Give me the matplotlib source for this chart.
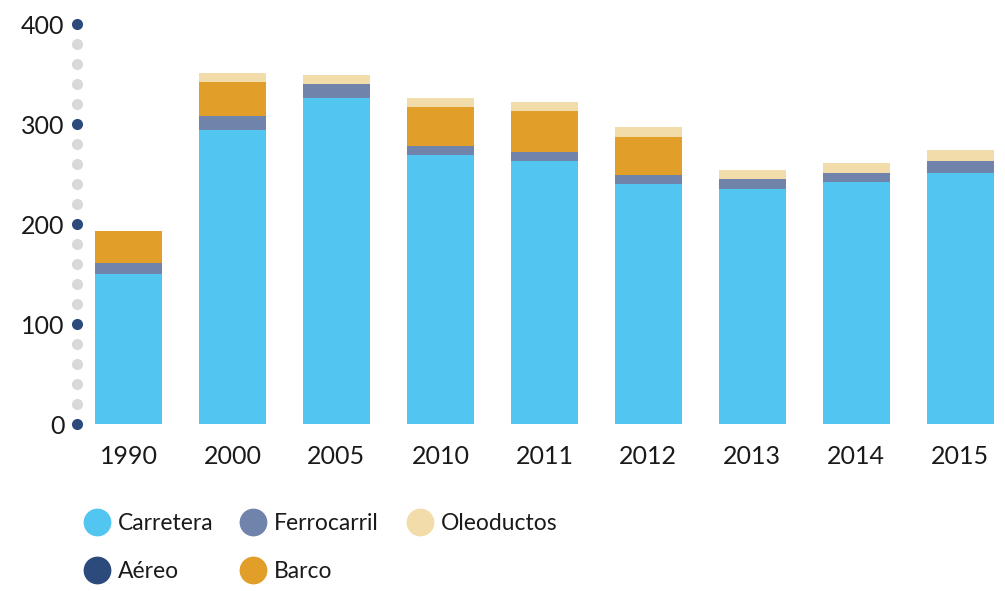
import numpy as np
import matplotlib.pyplot as plt
from matplotlib.lines import Line2D

# values
years = ['1990', '2000', '2005', '2010', '2011', '2012', '2013', '2014', '2015']
carretera = [150, 294, 326, 269, 263, 240, 235, 242, 251]
ferrocarril = [11, 14, 14, 9, 9, 9, 10, 9, 12]
aereo = [0.5, 0.5, 0.5, 0.5, 0.5, 0.5, 0.5, 0.5, 0.5]
barco = [32, 34, 0, 39, 41, 38, 0, 0, 0]
oleoductos = [0, 9, 9, 9, 9, 10, 9, 10, 11]

y_ticks = [0, 100, 200, 300, 400]
dot_values = np.arange(0, 401, 20)

legend_labels = ['Carretera', 'Ferrocarril', 'Oleoductos', 'Aéreo', 'Barco']

c_carretera = '#52c5f0'
c_ferro = '#7083aa'
c_oleo = '#f2dcaa'
c_aereo = '#2c4a7c'
c_barco = '#e19e28'
c_dot = '#d9d9d9'
c_text = '#1a1a1a'

plt.rcParams['font.family'] = ['Lato', 'DejaVu Sans']

W, H = 1005, 591
fig = plt.figure(figsize=(W / 100, H / 100), dpi=100)
ax = fig.add_axes([77 / W, 1 - 424 / H, (W - 77) / W, 400 / H])

x = np.arange(len(years))
w = 0.64
series = [(carretera, c_carretera), (ferrocarril, c_ferro), (aereo, c_aereo),
          (barco, c_barco), (oleoductos, c_oleo)]
bottom = np.zeros(len(years))
for vals, col in series:
    vals = np.array(vals, dtype=float)
    ax.bar(x, vals, w, bottom=bottom, color=col, linewidth=0)
    bottom += vals

ax.set_xlim(-0.495, 8.43)
ax.set_ylim(0, 400)

# dotted y axis
for v in dot_values:
    col = c_aereo if v % 100 == 0 else c_dot
    ax.plot([-0.495], [v], 'o', color=col, markersize=8, clip_on=False, zorder=5,
            markeredgewidth=0)

for s in ax.spines.values():
    s.set_visible(False)
ax.set_yticks(y_ticks)
ax.set_yticklabels([str(t) for t in y_ticks])
ax.set_xticks(x)
ax.set_xticklabels(years)
ax.tick_params(axis='both', length=0, labelsize=18, labelcolor=c_text)
ax.tick_params(axis='y', pad=9)
ax.tick_params(axis='x', pad=15)

# legend, placed by hand like the original layout
leg_colors = [c_carretera, c_ferro, c_oleo, c_aereo, c_barco]
leg_cx = [97, 253, 420, 97, 253]
leg_cy = [522, 522, 522, 570, 570]
for lab, col, cx, cy in zip(legend_labels, leg_colors, leg_cx, leg_cy):
    fig.add_artist(Line2D([cx / W], [1 - cy / H], marker='o', linestyle='',
                          color=col, markersize=20, markeredgewidth=0,
                          transform=fig.transFigure))
    fig.text((cx + 21) / W, 1 - (cy + 1) / H, lab, fontsize=16.5, color=c_text,
             ha='left', va='center')

fig.savefig('out.png', dpi=100)
